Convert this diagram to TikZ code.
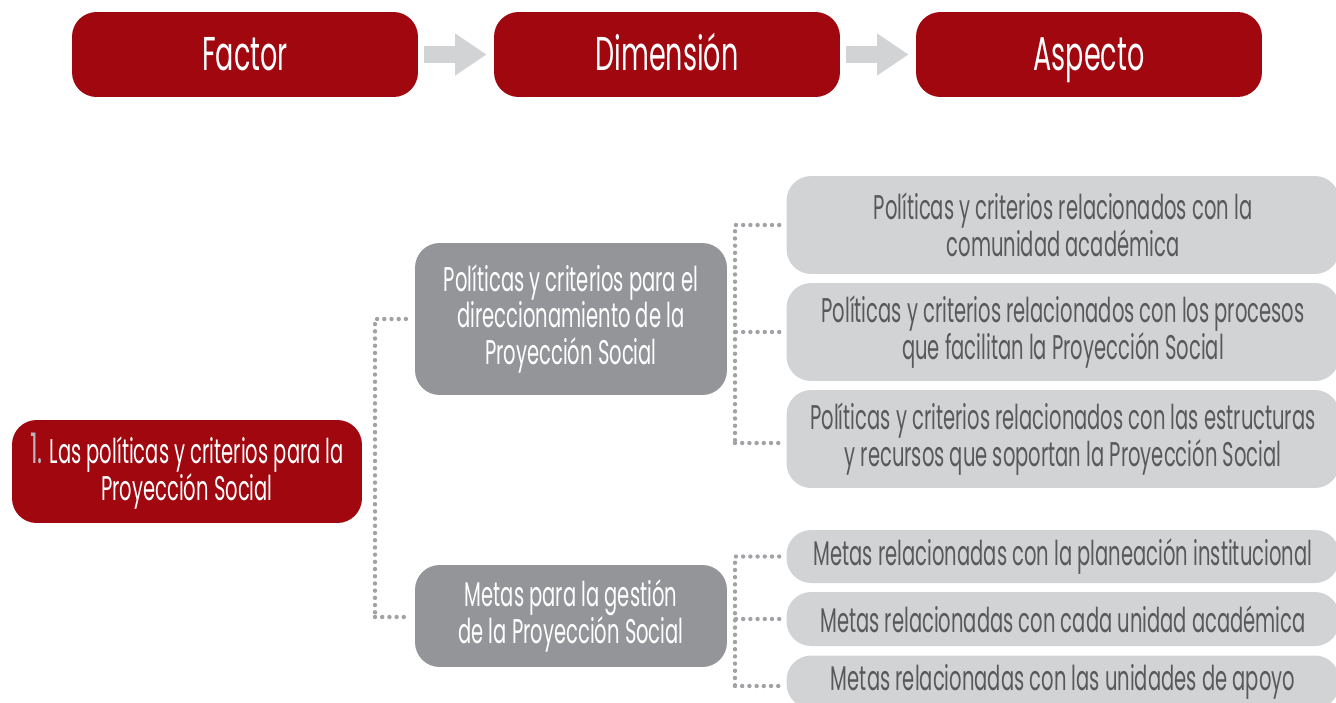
\documentclass[tikz,border=0pt]{standalone}
\usepackage{fontspec}
\setmainfont{Poppins}[FakeStretch=0.57]
\usetikzlibrary{arrows.meta}

\definecolor{factorred}{HTML}{A0070F}
\definecolor{dimgray}{HTML}{939598}
\definecolor{aspgray}{HTML}{D1D3D4}
\definecolor{asptext}{HTML}{58595B}
\definecolor{dotgray}{HTML}{A0A2A5}
\definecolor{numgray}{HTML}{B5B7BA}
\definecolor{arrowgray}{HTML}{D1D3D4}

\begin{document}
\begin{tikzpicture}[x=0.02cm, y=-0.02cm,
  header/.style={rectangle, rounded corners=14pt, fill=factorred, text=white,
    minimum width=6.92cm, minimum height=1.7cm, text height=23.5pt, text depth=5pt,
    font=\fontsize{27}{30}\selectfont},
  factor/.style={rectangle, rounded corners=14pt, fill=factorred, text=white,
    minimum width=7cm, minimum height=2.06cm, align=center, inner sep=0,
    font=\fontsize{19.5}{21}\selectfont},
  dimbox/.style={rectangle, rounded corners=14pt, fill=dimgray, text=white,
    minimum width=6.24cm, align=center, inner sep=0,
    font=\fontsize{19.5}{21}\selectfont},
  aspbox/.style={rectangle, rounded corners=14pt, fill=aspgray, text=asptext,
    minimum width=11.06cm, align=center, inner sep=0,
    font=\fontsize{19.5}{21}\selectfont},
  dotline/.style={draw=dotgray, line width=2.5pt, line cap=round,
    dash pattern=on 0pt off 4.1pt},
  flow/.style={draw=arrowgray, line width=10.2pt,
    -{Triangle[length=18pt, width=22.7pt]}, shorten <=3.4pt, shorten >=4pt}]

\useasboundingbox (0,0) rectangle (1336,703);

% encabezados
\node [header] (hf) at (245, 54.5) {Factor};
\node [header] (hd) at (667, 54.5) {Dimensión};
\node [header] (ha) at (1089, 54.5) {Aspecto};

\draw [flow] (hf) -- (hd);
\draw [flow] (hd) -- (ha);

% factor
\node [factor] (f1) at (187, 471.5)
  {{\fontsize{24}{21}\selectfont\color{numgray}1.} Las políticas y criterios para la\\Proyección Social};

% dimensiones
\node [dimbox, minimum height=3.04cm] (d1) at (571, 319)
  {Políticas y criterios para el\\direccionamiento de la\\Proyección Social};
\node [dimbox, minimum height=2.04cm] (d2) at (571, 616)
  {Metas para la gestión\\de la Proyección Social};

% aspectos
\node [aspbox, minimum height=1.96cm] (a1) at (1063, 225)
  {Políticas y criterios relacionados con la\\comunidad académica};
\node [aspbox, minimum height=1.96cm] (a2) at (1063, 332)
  {Políticas y criterios relacionados con los procesos\\que facilitan la Proyección Social};
\node [aspbox, minimum height=1.96cm] (a3) at (1063, 439)
  {Políticas y criterios relacionados con las estructuras\\y recursos que soportan la Proyección Social};
\node [aspbox, minimum height=1.06cm] (a4) at (1063, 556.5)
  {Metas relacionadas con la planeación institucional};
\node [aspbox, minimum height=1.08cm] (a5) at (1063, 619)
  {Metas relacionadas con cada unidad académica};
\node [aspbox, minimum height=1.06cm] (a6) at (1063, 682)
  {Metas relacionadas con las unidades de apoyo};

% lineas punteadas
\coordinate (s0) at (375, 617);
\coordinate (s1) at (735, 443);
\coordinate (s2) at (735, 686);

\draw [dotline, shorten <=5pt] (d1.west) -| (s0);
\draw [dotline, shorten >=5pt] (s0) -- (d2.west |- s0);

\draw [dotline, shorten <=4pt] (a1.west) -| (s1);
\draw [dotline, shorten >=4pt] (s1) -- (a3.west |- s1);
\draw [dotline, shorten <=4pt] (a2.west) -- (a2.west -| s1);

\draw [dotline, shorten <=4pt] (a4.west) -| (s2);
\draw [dotline, shorten >=4pt] (s2) -- (a6.west |- s2);
\draw [dotline, shorten <=4pt] (a5.west) -- (a5.west -| s2);
\end{tikzpicture}
\end{document}
